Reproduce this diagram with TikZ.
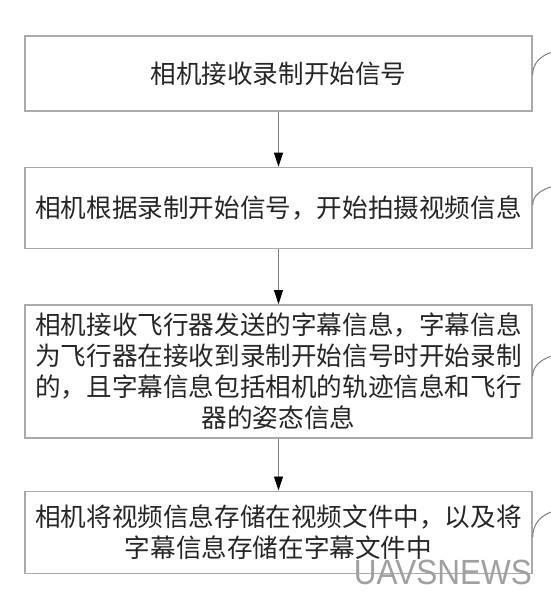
\documentclass[tikz,border=0pt]{standalone}
\usepackage{fontspec}
\newfontfamily\cjk{Noto Sans CJK SC}
\newfontfamily\markfont[FakeStretch=0.9]{Liberation Sans}
\usetikzlibrary{arrows.meta, positioning}
\definecolor{boxGray}{RGB}{170, 170, 170}
\definecolor{lineGray}{RGB}{125, 125, 125}
\definecolor{markGray}{RGB}{160, 160, 160}

\begin{document}
\begin{tikzpicture}[
        x=1pt, y=-1pt,
        node distance=55pt,
        box/.style={rectangle, draw=boxGray, line width=1.4pt, minimum width=507pt, inner sep=0pt, align=center, text=black!85, font=\cjk\fontsize{25.6}{31}\selectfont},
        arrow/.style={-{Triangle[width=9pt, length=14pt, black]}, lineGray, line width=0.8pt},
        leader/.style={lineGray, line width=1pt}
    ]
        \useasboundingbox (0,0) rectangle (550,596);

        % Steps
        \node[box, minimum height=75pt] (sa) at (278.5,73.5) {相机接收录制开始信号};
        \node[box, minimum height=81pt, below=of sa] (sb) {相机根据录制开始信号，开始拍摄视频信息};
        \node[box, minimum height=133pt, below=of sb] (sc) {相机接收飞行器发送的字幕信息，字幕信息\\为飞行器在接收到录制开始信号时开始录制\\的，且字幕信息包括相机的轨迹信息和飞行\\器的姿态信息};
        \node[box, minimum height=82pt, below=52pt of sc] (sd) {相机将视频信息存储在视频文件中，以及将\\字幕信息存储在字幕文件中};

        \draw[arrow] (sa) -- (sb);
        \draw[arrow] (sb) -- (sc);
        \draw[arrow] (sc) -- (sd);

        % Leaders to step labels (cut off at the edge)
        \coordinate (la) at ([xshift=18pt, yshift=21pt]sa.east);
        \coordinate (lb) at ([xshift=18pt, yshift=21pt]sb.east);
        \coordinate (lc) at ([xshift=18pt, yshift=15pt]sc.east);
        \coordinate (ld) at ([xshift=18pt, yshift=20pt]sd.east);
        \draw[leader] ([yshift=-1pt]sa.east) to[out=90, in=200] (la);
        \draw[leader] ([yshift=3pt]sb.east) to[out=90, in=200] (lb);
        \draw[leader] ([yshift=-5pt]sc.east) to[out=90, in=200] (lc);
        \draw[leader] ([yshift=-5pt]sd.east) to[out=90, in=200] (ld);

        % Watermark
        \node[anchor=base east, inner sep=0pt, text=markGray, font=\markfont\fontsize{35}{35}\selectfont] (wm) at (532,584) {UAVSNEWS};
    \end{tikzpicture}
\end{document}
